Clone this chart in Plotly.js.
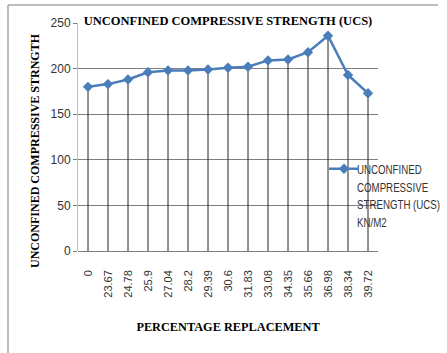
<!DOCTYPE html>
<html>
<head>
<meta charset="utf-8">
<script src="https://cdn.plot.ly/plotly-3.0.1.min.js"></script>
<style>
html,body{margin:0;padding:0;background:#fff;}
#chart{width:447px;height:353px;}
#chart .legendtext{transform-box:fill-box;transform-origin:0% 50%;transform:translateX(-7px) scaleX(0.72);}
</style>
</head>
<body>
<div id="chart"></div>
<script>
const categories = ['0','23.67','24.78','25.9','27.04','28.2','29.39','30.6','31.83','33.08','34.35','35.66','36.98','38.34','39.72'];
const ucs = [180,183,188,196,198,198,199,201,202,209,210,218,236,193,173];
const yTicks = [0,50,100,150,200,250];

const trace = {
  type:'scatter', mode:'lines+markers',
  x: categories, y: ucs,
  name: 'UNCONFINED<br>COMPRESSIVE<br>STRENGTH (UCS)<br>KN/M2',
  line:{color:'#4a7ebb', width:2.5},
  marker:{symbol:'diamond', size:8, color:'#4a7ebb'},
  error_y:{type:'data', symmetric:false, array: ucs.map(()=>0), arrayminus: ucs, color:'#262626', thickness:1, width:0}
};

const layout = {
  width:447, height:353,
  margin:{l:78, r:69, t:23, b:102, autoexpand:false},
  paper_bgcolor:'#fff', plot_bgcolor:'rgba(0,0,0,0)',
  title:{text:'<b>UNCONFINED COMPRESSIVE STRENGTH (UCS)</b>', font:{family:'Liberation Serif', size:12.5, color:'#000'},
         x:0.5, xref:'paper', xanchor:'center', y:1-21/353, yref:'container', yanchor:'middle'},
  xaxis:{type:'category', range:[-0.5,14.5], showgrid:false, zeroline:false,
         showline:false, ticks:'', tickangle:-90, ticklabelstandoff:16,
         tickfont:{family:'Liberation Sans', size:11, color:'#333'},
         title:{text:'<b>PERCENTAGE REPLACEMENT</b>', font:{family:'Liberation Serif', size:12.3, color:'#000'}, standoff:25}},
  yaxis:{range:[0,250], tickvals:yTicks, showgrid:true, gridcolor:'#7f7f7f', gridwidth:1,
         zeroline:true, zerolinecolor:'#7f7f7f', zerolinewidth:1,
         showline:true, linecolor:'#bfbfbf', linewidth:1,
         ticks:'outside', ticklen:4, tickcolor:'#7f7f7f',
         tickfont:{family:'Liberation Sans', size:12, color:'#333'}},
  annotations:[
    {text:'<b>UNCONFINED COMPRESSIVE STRNGTH</b>', textangle:-90, xref:'paper', yref:'paper',
     x:(35-78)/300, y:(251-151)/228, xanchor:'center', yanchor:'middle', showarrow:false,
     font:{family:'Liberation Serif', size:12, color:'#000'}}
  ],
  showlegend:true,
  legend:{x:0.82, xanchor:'left', y:0.428, yanchor:'top', valign:'top', itemwidth:30,
          bgcolor:'rgba(0,0,0,0)', borderwidth:0,
          font:{family:'Liberation Sans', size:13.5, color:'#333'}},
  shapes:[
    {type:'line', xref:'paper', yref:'paper', x0:-70/300, x1:360/300, y0:246/228, y1:246/228, line:{color:'#a6a6a6', width:1.5}},
    {type:'line', xref:'paper', yref:'paper', x0:-70/300, x1:-70/300, y0:246/228, y1:-105/228, line:{color:'#a6a6a6', width:1.5}}
  ]
};

Plotly.newPlot('chart',[trace],layout,{displayModeBar:false, staticPlot:true});
</script>
</body>
</html>
